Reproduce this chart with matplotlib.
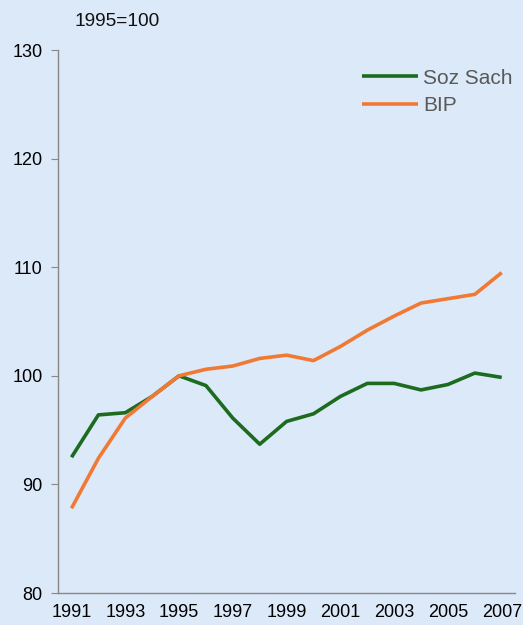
import numpy as np
import matplotlib
matplotlib.use("Agg")
import matplotlib.pyplot as plt

plt.rcParams['font.family'] = ['Liberation Sans', 'DejaVu Sans']

years = list(range(1991, 2008))
soz_sach = [92.5, 96.4, 96.6, 98.1, 100.0, 99.1, 96.1, 93.7, 95.8, 96.5,
            98.1, 99.3, 99.3, 98.7, 99.2, 100.25, 99.85]
bip = [87.8, 92.4, 96.1, 98.1, 100.0, 100.6, 100.9, 101.6, 101.9, 101.4,
       102.7, 104.2, 105.5, 106.7, 107.1, 107.5, 109.5]
tick_years = [str(y) for y in range(1991, 2008, 2)]

bg = "#dce9f8"
fig = plt.figure(figsize=(5.23, 6.25), dpi=100, facecolor=bg)
ax = fig.add_axes([0.111, 0.0512, 0.874, 0.8688], facecolor=bg)

x = np.arange(len(years))
ax.plot(x, soz_sach, color="#1c6b1f", lw=2.6, label="Soz Sach", solid_capstyle="butt")
ax.plot(x, bip, color="#f07a33", lw=2.6, label="BIP", solid_capstyle="butt")

ax.set_xlim(-0.5, len(years) - 0.5)
ax.set_ylim(80, 130)
ax.set_yticks([80, 90, 100, 110, 120, 130])
ax.set_xticks(x[::2])
ax.set_xticklabels(tick_years)

for s in ["top", "right"]:
    ax.spines[s].set_visible(False)
for s in ["left", "bottom"]:
    ax.spines[s].set_color("#888888")
    ax.spines[s].set_linewidth(1.0)
ax.tick_params(axis="y", length=5, color="#888888", labelsize=13, pad=6)
ax.tick_params(axis="x", length=0, labelsize=13, pad=8)

fig.text(0.143, 0.958, "1995=100", fontsize=13.8, color="#111111")

leg = ax.legend(loc="upper right", bbox_to_anchor=(1.035, 1.0), frameon=False,
                fontsize=15, handlelength=2.65, handletextpad=0.25, labelspacing=0.4)
for t in leg.get_texts():
    t.set_color("#595959")

fig.savefig("out.png", dpi=100, facecolor=bg)
